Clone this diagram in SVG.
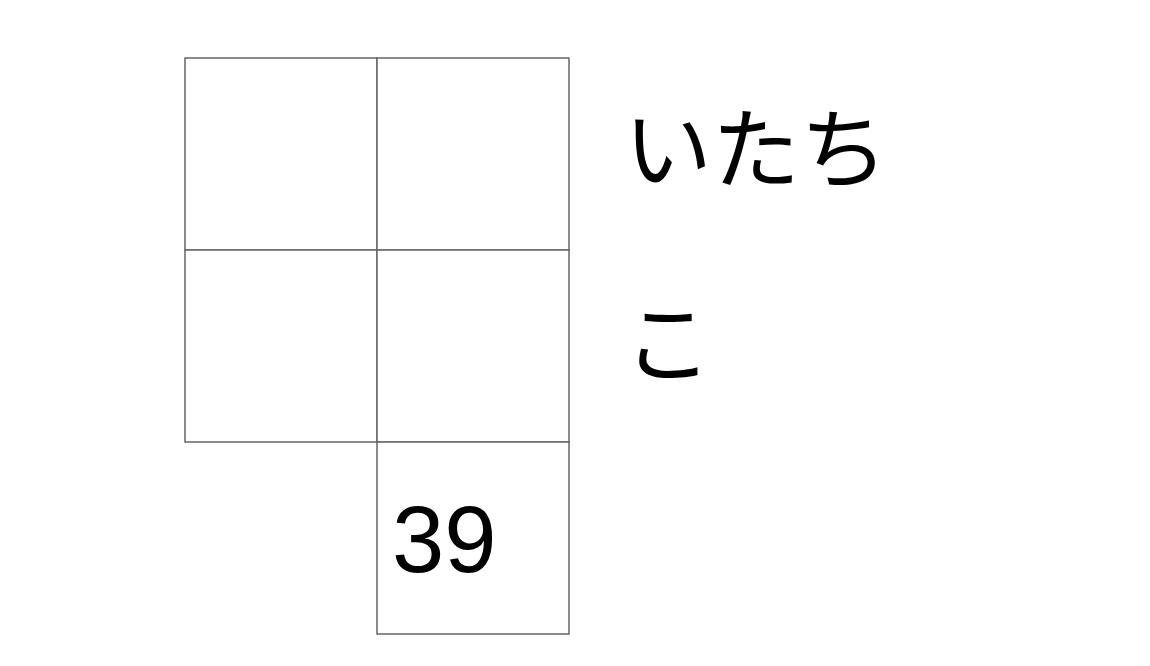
<svg xmlns="http://www.w3.org/2000/svg" width="1150" height="666" viewBox="0 0 1150 666">
<style>
.cell{fill:#fff;stroke:#666;stroke-width:1.5}
.jp{font-family:"Noto Sans CJK JP","Noto Sans",sans-serif;font-size:88px;fill:#000}
.num{font-family:"Liberation Sans",Arial,sans-serif;font-size:94px;fill:#000}
</style>
<rect width="1150" height="666" fill="#fff"/>
<g id="grid">
<rect id="c1" class="cell" x="185" y="58" width="192" height="192"/>
<rect id="c2" class="cell" x="377" y="58" width="192" height="192"/>
<rect id="c3" class="cell" x="185" y="250" width="192" height="192"/>
<rect id="c4" class="cell" x="377" y="250" width="192" height="192"/>
<g id="c5"><rect class="cell" x="377" y="442" width="192" height="192"/>
<text class="num" x="392" y="572">39</text></g>
</g>
<g id="labels">
<text id="t1" class="jp" x="624" y="181">いたち</text>
<text id="t2" class="jp" x="624" y="375">こ</text>
</g>
</svg>
